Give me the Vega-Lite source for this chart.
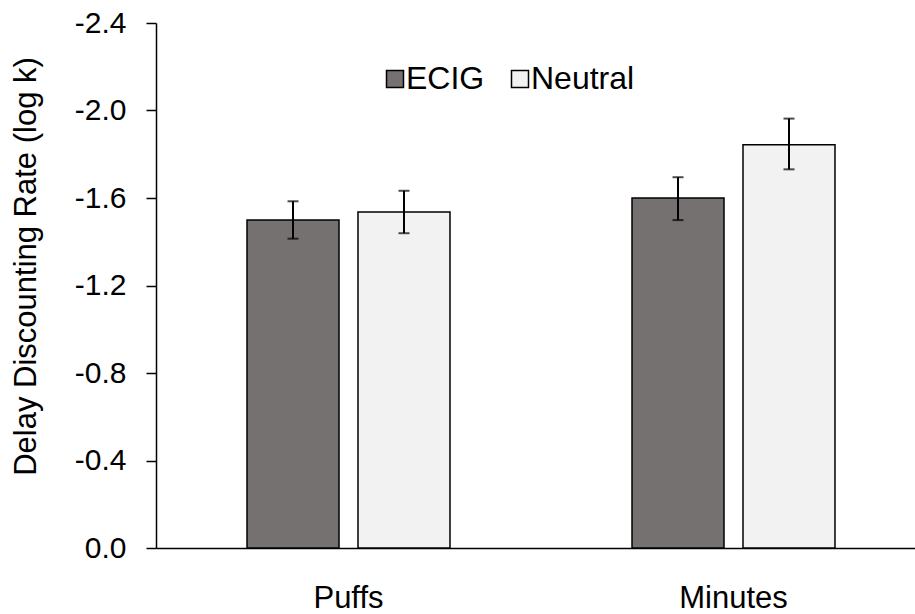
{
  "$schema": "https://vega.github.io/schema/vega-lite/v6.json",
  "autosize": {"type": "none"},
  "width": 759,
  "height": 525,
  "padding": {"left": 156, "top": 23, "right": 0, "bottom": 66},
  "background": "white",
  "config": {
    "view": {"stroke": null},
    "font": "Liberation Sans",
    "axis": {"labelColor": "#000", "titleColor": "#000", "domainColor": "#000", "tickColor": "#000", "grid": false, "labelFont": "Liberation Sans", "titleFont": "Liberation Sans"},
    "legend": {"labelFont": "Liberation Sans"}
  },
  "data": {
    "values": [
      {"measure": "Puffs", "cue": "ECIG", "mean": -1.5, "lo": -1.414, "hi": -1.585},
      {"measure": "Puffs", "cue": "Neutral", "mean": -1.536, "lo": -1.439, "hi": -1.633},
      {"measure": "Minutes", "cue": "ECIG", "mean": -1.6, "lo": -1.499, "hi": -1.695},
      {"measure": "Minutes", "cue": "Neutral", "mean": -1.844, "lo": -1.731, "hi": -1.963}
    ]
  },
  "encoding": {
    "x": {
      "field": "measure", "type": "nominal", "sort": ["Puffs", "Minutes"],
      "scale": {"range": [0, 770], "paddingInner": 0, "paddingOuter": 0},
      "axis": {"title": null, "labelAngle": 0, "ticks": false, "tickSize": 0, "labelFontSize": 31, "labelPadding": 35, "domainWidth": 1.5}
    },
    "xOffset": {
      "field": "cue", "type": "nominal", "sort": ["ECIG", "Neutral"],
      "scale": {"paddingInner": 0.171, "paddingOuter": 0.82}
    }
  },
  "layer": [
    {
      "mark": {"type": "bar", "stroke": "#000", "strokeWidth": 1.5},
      "encoding": {
        "y": {
          "field": "mean", "type": "quantitative",
          "scale": {"domain": [-2.4, 0], "reverse": true, "nice": false},
          "axis": {
            "title": "Delay Discounting Rate (log k)",
            "titleFontSize": 31, "titleFontWeight": "normal", "titlePadding": 32, "titleY": 243,
            "values": [-2.4, -2.0, -1.6, -1.2, -0.8, -0.4, 0],
            "labelExpr": "(datum.value < 0 ? '-' : '') + format(abs(datum.value), '.1f')",
            "labelFontSize": 30, "labelPadding": 20, "tickSize": 10, "tickWidth": 1.5, "domainWidth": 1.5
          }
        },
        "fill": {
          "field": "cue", "type": "nominal", "sort": ["ECIG", "Neutral"],
          "scale": {"range": ["#767171", "#F2F2F2"]},
          "legend": {
            "title": null, "orient": "none", "direction": "horizontal",
            "legendX": 223, "legendY": 40, "padding": 0,
            "symbolType": "square", "symbolSize": 289, "symbolStrokeColor": "#000", "symbolStrokeWidth": 1.5,
            "labelFontSize": 32, "labelColor": "#000", "labelOffset": -5, "columnPadding": 19
          }
        }
      }
    },
    {
      "mark": {"type": "rule", "color": "#000", "strokeWidth": 2},
      "encoding": {
        "y": {"field": "lo", "type": "quantitative"},
        "y2": {"field": "hi"}
      }
    },
    {
      "mark": {"type": "tick", "color": "#000", "thickness": 2, "size": 11},
      "encoding": {"y": {"field": "lo", "type": "quantitative"}}
    },
    {
      "mark": {"type": "tick", "color": "#000", "thickness": 2, "size": 11},
      "encoding": {"y": {"field": "hi", "type": "quantitative"}}
    }
  ]
}
